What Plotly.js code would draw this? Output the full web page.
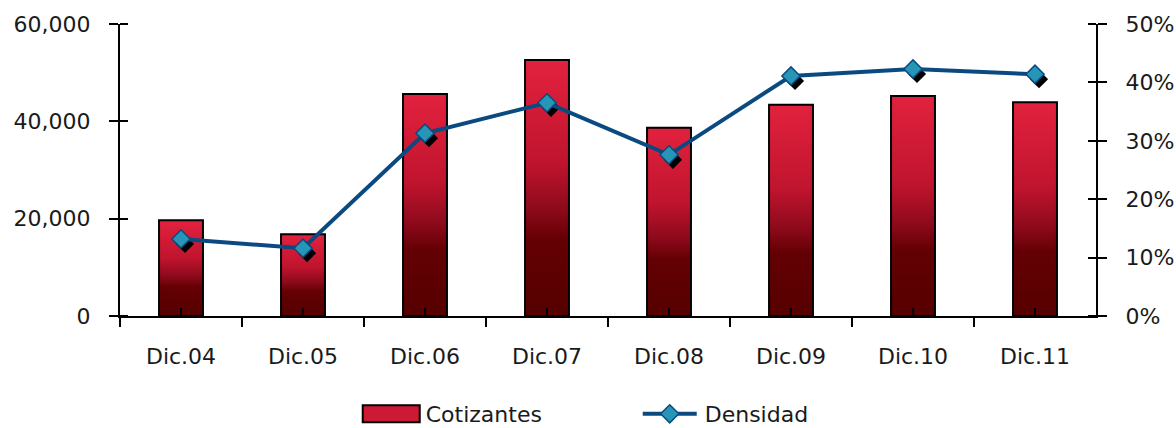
<!DOCTYPE html>
<html>
<head>
<meta charset="utf-8">
<script src="https://cdn.plot.ly/plotly-3.0.1.min.js"></script>
<style>html,body{margin:0;padding:0;background:#fff;}#chart{width:1176px;height:428px;}</style>
</head>
<body>
<div id="chart"></div>
<script>
const categories = ["Dic.04","Dic.05","Dic.06","Dic.07","Dic.08","Dic.09","Dic.10","Dic.11"];
const cotizantes = [19700, 16800, 45600, 52600, 38700, 43400, 45200, 43900];
const densidad = [0.132, 0.116, 0.313, 0.365, 0.276, 0.411, 0.423, 0.414];
const leftTicks = [0, 20000, 40000, 60000];
const leftTickText = ["0", "20,000", "40,000", "60,000"];
const rightTicks = [0, 0.1, 0.2, 0.3, 0.4, 0.5];
const rightTickText = ["0%", "10%", "20%", "30%", "40%", "50%"];

const FONT = "DejaVu Sans, sans-serif";
const TXT = "#1a1a1a";
const boundaries = categories.slice(0, -1).map(function(_, i){ return i + 0.5; });

const traces = [
  {
    type: "bar", name: "Cotizantes", x: categories, y: cotizantes,
    width: 0.36,
    marker: {color: "#c8142e", line: {color: "#000", width: 2}},
    hoverinfo: "skip"
  },
  {
    type: "scatter", mode: "markers", name: "shadow", x: categories, y: densidad,
    yaxis: "y2", showlegend: false, hoverinfo: "skip",
    marker: {symbol: "diamond", size: 14, color: "#000", line: {width: 0}}
  },
  {
    type: "scatter", mode: "lines+markers", name: "Densidad", x: categories, y: densidad,
    yaxis: "y2",
    line: {color: "#0b4a80", width: 4},
    marker: {symbol: "diamond", size: 14, color: "#2796b6", line: {color: "#0b4a80", width: 1.5}}
  }
];

const layout = {
  width: 1176, height: 428,
  margin: {l: 120, r: 80, t: 24, b: 112, autoexpand: false},
  paper_bgcolor: "#fff", plot_bgcolor: "#fff",
  font: {family: FONT, size: 22, color: TXT},
  showlegend: true,
  legend: {orientation: "h", xref: "container", yref: "container",
           x: 0.328, xanchor: "left", y: 0.0327, yanchor: "middle",
           font: {family: FONT, size: 22, color: TXT}, entrywidth: 234, entrywidthmode: "pixels",
           traceorder: "normal"},
  xaxis: {
    type: "category", showline: true, linecolor: "#000", linewidth: 2,
    ticks: "outside", tickson: "boundaries", ticklen: 9, tickwidth: 2, tickcolor: "#000",
    ticklabelstandoff: 20,
    minor: {ticks: "inside", tickmode: "array", tickvals: boundaries, ticklen: 8, tickwidth: 2, tickcolor: "#000"},
    showgrid: false, zeroline: false,
    tickfont: {family: FONT, size: 22, color: TXT}
  },
  yaxis: {
    range: [0, 60000], tickvals: leftTicks, ticktext: leftTickText,
    showline: true, linecolor: "#000", linewidth: 2,
    ticks: "outside", ticklen: 9, tickwidth: 2, tickcolor: "#000",
    ticklabelstandoff: 14,
    minor: {ticks: "inside", tickvals: leftTicks, ticklen: 8, tickwidth: 2, tickcolor: "#000"},
    showgrid: false, zeroline: false,
    tickfont: {family: FONT, size: 22, color: TXT}
  },
  yaxis2: {
    overlaying: "y", side: "right", range: [0, 0.5],
    tickvals: rightTicks, ticktext: rightTickText,
    showline: true, linecolor: "#000", linewidth: 2,
    ticks: "outside", ticklen: 9, tickwidth: 2, tickcolor: "#000",
    ticklabelstandoff: 14,
    minor: {ticks: "inside", tickvals: rightTicks, ticklen: 8, tickwidth: 2, tickcolor: "#000"},
    showgrid: false, zeroline: false,
    tickfont: {family: FONT, size: 22, color: TXT}
  }
};

Plotly.newPlot("chart", traces, layout, {displayModeBar: false, staticPlot: true}).then(function(gd){
  const svg = gd.querySelector("svg.main-svg");
  const ns = "http://www.w3.org/2000/svg";
  let defs = svg.querySelector("defs");
  if (!defs) { defs = document.createElementNS(ns, "defs"); svg.insertBefore(defs, svg.firstChild); }
  const g = document.createElementNS(ns, "linearGradient");
  g.setAttribute("id", "barGrad");
  g.setAttribute("x1", "0"); g.setAttribute("y1", "0");
  g.setAttribute("x2", "0"); g.setAttribute("y2", "1");
  [["0", "#e2223e"], ["0.4", "#c0142e"], ["0.58", "#8e0a1c"], ["0.7", "#640004"], ["1", "#560000"]].forEach(function(s){
    const st = document.createElementNS(ns, "stop");
    st.setAttribute("offset", s[0]); st.setAttribute("stop-color", s[1]);
    g.appendChild(st);
  });
  defs.appendChild(g);
  gd.querySelectorAll(".barlayer .point path").forEach(function(p){ p.style.fill = "url(#barGrad)"; });
  const sc = gd.querySelectorAll(".scatterlayer .trace");
  if (sc.length) sc[0].setAttribute("transform", "translate(4,5)");
  // legend symbol tweaks
  gd.querySelectorAll(".legend .scrollbox, .legend").forEach(function(el){ el.removeAttribute("clip-path"); });
  gd.querySelectorAll(".legend .traces").forEach(function(t){
    if (t.textContent.indexOf("Cotizantes") >= 0) {
      const bp = t.querySelector(".legendpoints path");
      if (bp) { bp.setAttribute("d", "M-43,8.5H14V-8.5H-43Z"); bp.style.fill = "#cc1a34"; bp.style.stroke = "#000"; bp.style.strokeWidth = "2px"; }
    }
    if (t.textContent.indexOf("Densidad") >= 0) {
      const lp = t.querySelector(".legendlines path");
      if (lp) lp.setAttribute("d", "M-22,0h54");
      const pg = t.querySelector(".legendpoints");
      if (pg) pg.setAttribute("transform", "translate(-15,0)");
    }
  });
});
</script>
</body>
</html>
